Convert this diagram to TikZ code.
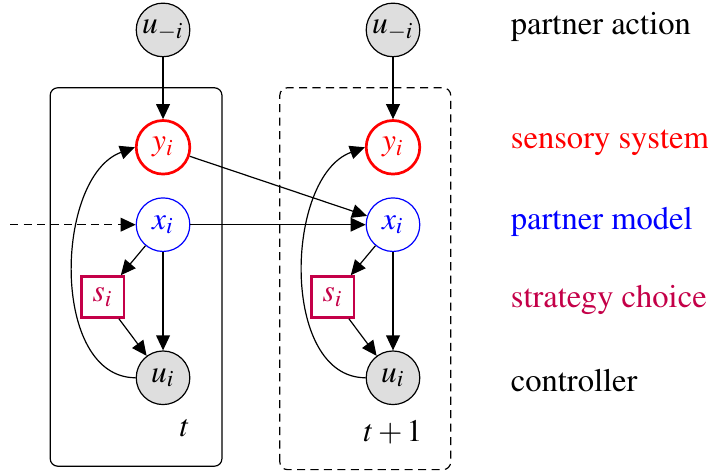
\documentclass[tikz,border=0pt]{standalone}
\usepackage[T1]{fontenc}
\usepackage{mathptmx}
\usepackage{tikz}
\usetikzlibrary{calc,positioning}
\usetikzlibrary{arrows.meta}
\tikzset{>={Triangle[width=4.6pt,length=5pt]}}
\definecolor{sens_red}{RGB}{255, 0, 0}
\definecolor{model_blue}{RGB}{0, 0, 255}
\definecolor{strat_crimson}{RGB}{196, 0, 72}
\definecolor{obs_gray}{RGB}{222, 222, 222}
\begin{document}
\begin{tikzpicture}[
		every node/.style={font=\fontsize{10.5}{12.6}\selectfont},
		obs/.style={circle,draw,fill=obs_gray,minimum size=0.63cm,inner sep=0pt},
		sens/.style={circle,draw=sens_red,line width=0.9pt,text=sens_red,minimum size=0.63cm,inner sep=0pt},
		model/.style={circle,draw=model_blue,text=model_blue,minimum size=0.63cm,inner sep=0pt},
		strat/.style={rectangle,draw=strat_crimson,line width=0.9pt,text=strat_crimson,minimum width=0.5cm,minimum height=0.48cm,inner sep=0pt},
		plate/.style={draw,rounded corners=0.9mm},
		lab/.style={anchor=west,inner sep=0pt,font=\fontsize{10.9}{13}\selectfont},
	]
	\useasboundingbox (0,0) rectangle (8.325,5.562);

	% one time slice of the network
	\newcommand{\slice}[2]{%
		\node[obs,name=um-#2] at (#1,5.21) {$u_{-i}$};
		\node[sens,name=y-#2] at (#1,3.83) {$y_i$};
		\node[model,name=x-#2] at (#1,2.92) {$x_i$};
		\node[strat,name=s-#2] at ($(#1,2.07)+(-0.71,0)$) {$s_i$};
		\node[obs,name=u-#2] at (#1,1.12) {$u_i$};

		\draw[->] (um-#2) -- (y-#2);
		\draw[->] (x-#2) -- (s-#2);
		\draw[->] (x-#2) -- (u-#2);
		\draw[->] (s-#2) -- (u-#2);
		% feedback of the own action
		\draw[->] (u-#2.west) to[out=180,in=200,looseness=0.95] (y-#2.west);
	}

	\def\colA{1.917}
	\def\colB{4.621}

	% plates
	\draw[plate] (0.59,0.08) rectangle (2.61,4.53);
	\draw[plate,dash pattern=on 2.7pt off 1.8pt] (3.29,0.04) rectangle (5.30,4.53);

	\slice{\colA}{t1}
	\slice{\colB}{t2}

	\node[name=time-t1] at (2.175,0.53) {$t$};
	\node[name=time-t2] at (\colB,0.48) {$t+1$};

	% links between slices
	\coordinate (prev) at (0.12,2.92);
	\draw[->,dash pattern=on 2.7pt off 1.8pt] (prev) -- (x-t1);
	\draw[->] (y-t1) -- (x-t2);
	\draw[->] (x-t1) -- (x-t2);

	% legend
	\node[lab,name=lab-action] at (6.0,5.25) {partner action};
	\node[lab,name=lab-sens,text=sens_red] at (6.0,3.88) {sensory system};
	\node[lab,name=lab-model,text=model_blue] at (6.0,2.95) {partner model};
	\node[lab,name=lab-strat,text=strat_crimson] at (6.0,2.03) {strategy choice};
	\node[lab,name=lab-ctrl] at (6.0,1.09) {controller};

\end{tikzpicture}
\end{document}
